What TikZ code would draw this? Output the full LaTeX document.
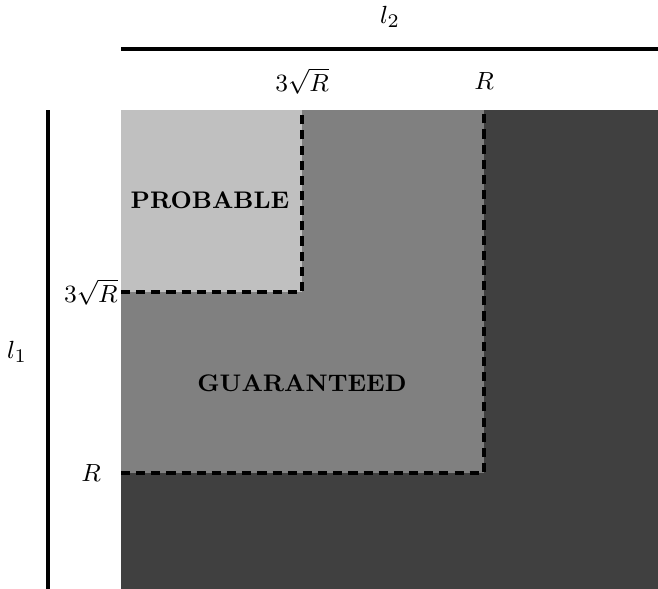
\documentclass[tikz,border=0pt]{standalone}
\usepackage{amsmath, amssymb}
\usepackage{tikz}
\usetikzlibrary{calc}
\usepackage{xcolor}
\definecolor{probgray}{RGB}{192, 192, 192}
\definecolor{guargray}{RGB}{128, 128, 128}
\definecolor{restgray}{RGB}{64, 64, 64}

\begin{document}
\begin{tikzpicture}[x=1.275cm, y=1.275cm,
    axisline/.style={black, line width=1.6pt},
    border/.style={black, line width=1.5pt, dash pattern=on 3.3pt off 2.2pt},
    region/.style={font=\fontsize{8.7}{10}\selectfont\bfseries},
    ticklabel/.style={font=\fontsize{9.5}{11}\selectfont}]

  % Frame
  \useasboundingbox (-1.21,0) rectangle (5.37,5.89);

  % Regions
  \fill[restgray] (0,0) rectangle (5.37,4.79);
  \fill[guargray] (0,1.16) rectangle (3.63,4.79);
  \fill[probgray] (0,2.97) rectangle (1.81,4.79);

  % Region borders
  \coordinate (p1) at (0,2.97);
  \coordinate (p2) at (1.81,2.97);
  \coordinate (p3) at (1.81,4.79);
  \coordinate (g1) at (0,1.16);
  \coordinate (g2) at (3.63,1.16);
  \coordinate (g3) at (3.63,4.79);
  \draw[border] (p1) -- (p2) -- (p3);
  \draw[border] (g1) -- (g2) -- (g3);

  % Axes
  \coordinate (xa) at (0,5.40);
  \coordinate (xb) at (5.37,5.40);
  \coordinate (ya) at (-0.73,0);
  \coordinate (yb) at (-0.73,4.79);
  \draw[axisline] (xa) -- (xb);
  \draw[axisline] (ya) -- (yb);
  \node[ticklabel] (ltwo) at (2.69,5.72) {$l_2$};
  \node[ticklabel] (lone) at (-1.04,2.37) {$l_1$};

  % Ticks
  \node[ticklabel] (tsqrt) at (1.81,5.08) {$3\sqrt{R}$};
  \node[ticklabel] (tr) at (3.63,5.08) {$R$};
  \node[ticklabel, anchor=east, inner sep=1pt] (lsqrt) at (p1) {$3\sqrt{R}$};
  \node[ticklabel] (lr) at (-0.30,1.16) {$R$};

  % Labels
  \node[region] (prob) at (0.89,3.89) {PROBABLE};
  \node[region] (guar) at (1.81,2.06) {GUARANTEED};

\end{tikzpicture}
\end{document}
